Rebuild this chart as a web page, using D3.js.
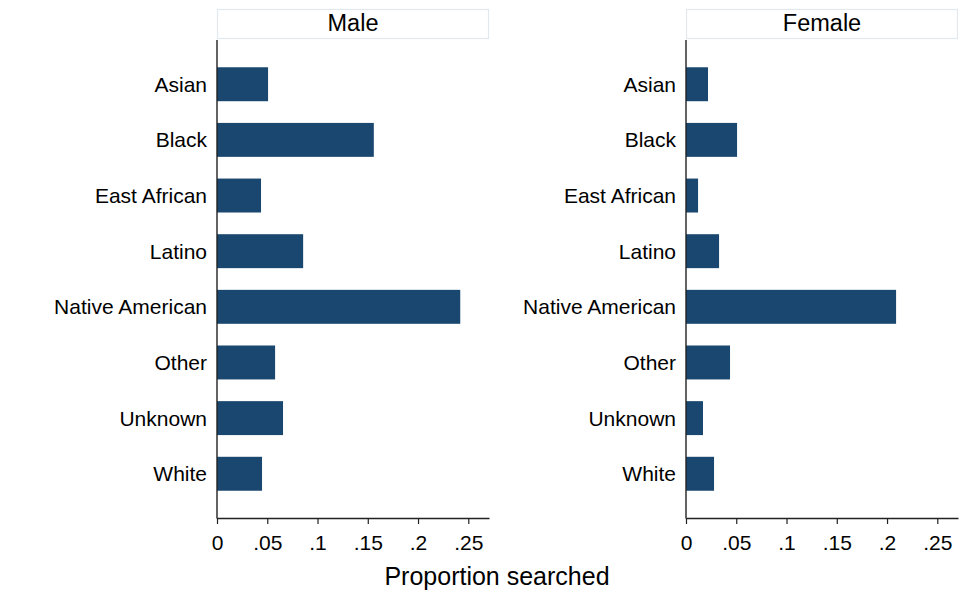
<!DOCTYPE html>
<html><head><meta charset="utf-8">
<script src="https://cdn.jsdelivr.net/npm/d3@7"></script>
<style>body{margin:0;background:#fff}svg{display:block}text{font-family:"Liberation Sans",Arial,sans-serif;fill:#000}</style>
</head><body><svg id="c" width="980" height="612"></svg>
<script>
const categories = ["Asian","Black","East African","Latino","Native American","Other","Unknown","White"];
const panels = ["Male","Female"];
const maleValues = [0.0508,0.156,0.0438,0.0857,0.242,0.0578,0.0657,0.0448];
const femaleValues = [0.0219,0.0508,0.0120,0.0329,0.209,0.0438,0.0169,0.0279];
const xTicks = [0,0.05,0.1,0.15,0.2,0.25];
const xTickLabels = ["0",".05",".1",".15",".2",".25"];
const xTitle = "Proportion searched";

const svg = d3.select("#c");
const series = [maleValues, femaleValues];
const panelX = [[217,489],[686,958]];
const plotTop = 40, plotBottom = 518;
const xMax = 0.2706;
const y = d3.scaleBand().domain(categories).range([plotTop,plotBottom]).paddingInner(0.39).paddingOuter(0.49);

panels.forEach((p,i)=>{
  const [x0,x1] = panelX[i];
  const x = d3.scaleLinear().domain([0,xMax]).range([x0,x1]);
  const g = svg.append("g");
  // strip
  g.append("rect").attr("x",x0+0.5).attr("y",9.5).attr("width",x1-x0-1).attr("height",29)
    .attr("fill","#fff").attr("stroke","#e1e9ef").attr("stroke-width",1.2);
  g.append("text").attr("x",(x0+x1)/2).attr("y",31).attr("text-anchor","middle")
    .attr("font-size",23.5).text(p);
  // bars
  g.selectAll("rect.bar").data(categories).join("rect").attr("class","bar")
    .attr("x",x(0)).attr("y",d=>y(d)).attr("height",y.bandwidth())
    .attr("width",(d,j)=>x(series[i][j])-x(0)).attr("fill","#1a476f");
  // y labels
  g.selectAll("text.yl").data(categories).join("text").attr("class","yl")
    .attr("x",x0-10).attr("y",d=>y(d)+y.bandwidth()/2).attr("dy","0.36em")
    .attr("text-anchor","end").attr("font-size",21).text(d=>d);
  // y axis line
  g.append("line").attr("x1",x0).attr("x2",x0).attr("y1",plotTop).attr("y2",plotBottom+0.5)
    .attr("stroke","#222").attr("stroke-width",1.4);
  // x axis
  const ax = d3.axisBottom(x).tickValues(xTicks).tickFormat((d,k)=>xTickLabels[k]).tickSize(6).tickSizeOuter(0);
  const axg = g.append("g").attr("transform",`translate(0,${plotBottom})`).call(ax);
  axg.select(".domain").attr("stroke","#222").attr("stroke-width",1.4);
  axg.selectAll(".tick line").attr("stroke","#222").attr("stroke-width",1.2);
  axg.selectAll(".tick text").attr("font-size",21).attr("font-family","Liberation Sans, Arial, sans-serif")
    .attr("fill","#000").attr("y",17).attr("dy","0.71em");
});
svg.append("text").attr("x",497).attr("y",585).attr("text-anchor","middle").attr("font-size",25).text(xTitle);
</script></body></html>
